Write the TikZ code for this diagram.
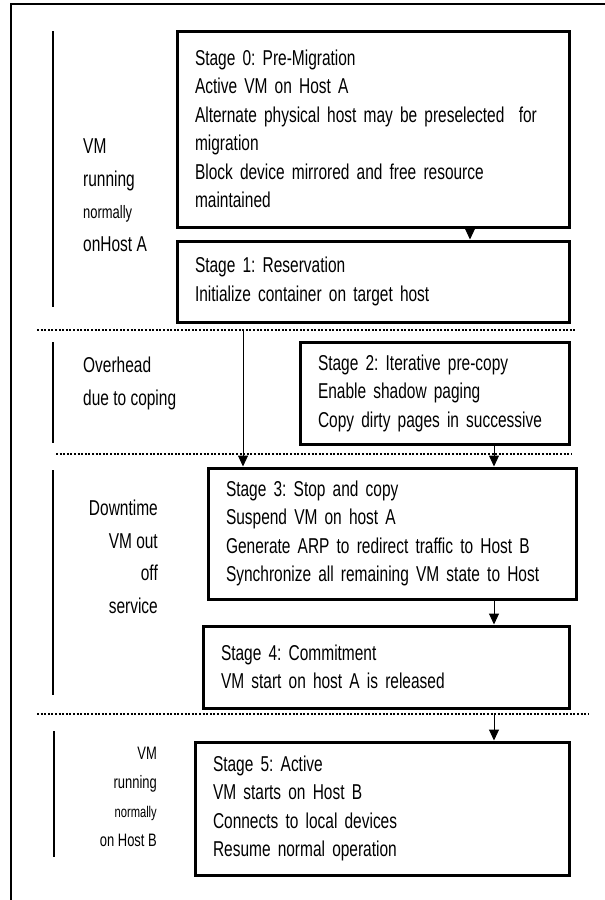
\documentclass[tikz,border=0pt]{standalone}
\usepackage{fontspec}
\setmainfont[FakeStretch=0.72]{Liberation Sans}
\usetikzlibrary{positioning, arrows.meta}
\frenchspacing
\newcommand{\stagefont}{\fontsize{21.5}{28.5}\selectfont}
\newcommand{\phasefont}{\fontsize{21.5}{32.5}\selectfont}
\newcommand{\smallphase}{\fontsize{18}{29}\selectfont}

\begin{document}
\begin{tikzpicture}[x=1pt, y=-1pt,
  stagebox/.style={draw, line width=3pt, align=left, inner xsep=18pt,
                   inner ysep=0pt, font=\stagefont},
  phaselbl/.style={inner sep=0pt},
  phasebar/.style={line width=2.5pt},
  phaseline/.style={line width=2.2pt, dash pattern=on 2pt off 1.6pt},
  arr/.style={-{Triangle[length=11pt, width=10pt]}, line width=1pt}
]
\useasboundingbox (0,0) rectangle (605,900);
% outer frame
\draw[line width=2pt] (11,900) -- (11,4) -- (605,4);

% stages
\node[stagebox, text width=356pt, minimum height=196pt] (s0) at (373,129)
  {Stage 0: Pre-Migration\\
   Active VM on Host A\\
   Alternate physical host may be preselected \ for\\
   migration\\
   Block device mirrored and free resource\\
   maintained};
\node[stagebox, text width=356pt, minimum height=81pt, below=11pt of s0] (s1)
  {Stage 1: Reservation\\
   Initialize container on target host};
\node[stagebox, text width=233pt, minimum height=102pt] (s2) at (434.5,393)
  {Stage 2: Iterative pre-copy\\
   Enable shadow paging\\
   Copy dirty pages in successive};
\node[stagebox, text width=332pt, minimum height=131pt] (s3) at (392,533.5)
  {Stage 3: Stop and copy\\
   Suspend VM on host A\\
   Generate ARP to redirect traffic to Host B\\
   Synchronize all remaining VM state to Host};
\node[stagebox, text width=330pt, minimum height=82pt, below=24pt of s3, xshift=-6pt] (s4)
  {Stage 4: Commitment\\
   VM start on host A is released};
\node[stagebox, text width=338pt, minimum height=133pt] (s5) at (382,808.5)
  {Stage 5: Active\\
   VM starts on Host B\\
   Connects to local devices\\
   Resume normal operation};

% phase labels
\node[phaselbl, align=left, anchor=west, font=\phasefont] (p1) at (83,195)
  {VM\\running\\{\fontsize{18}{32.5}\selectfont normally}\\onHost A};
\node[phaselbl, align=left, anchor=west, font=\phasefont] (p2) at (83,383.5)
  {Overhead\\due to coping};
\node[phaselbl, align=right, anchor=east, font=\phasefont] (p3) at (158,557)
  {Downtime\\VM out\\off\\service};
\node[phaselbl, align=right, anchor=east, font=\smallphase] (p4) at (157,796.5)
  {VM\\running\\{\fontsize{15.5}{29}\selectfont normally}\\on Host B};

% phase bars
\draw[phasebar] (53,31) -- (53,307);
\draw[phasebar] (53,342) -- (53,443);
\draw[phasebar] (53,470) -- (53,695);
\draw[phasebar] (54,731) -- (54,857);

% dotted separators
\coordinate (d1w) at (37,330);  \coordinate (d1e) at (575,330);
\coordinate (d2w) at (56,454);  \coordinate (d2e) at (571,454);
\coordinate (d3w) at (37,714);  \coordinate (d3e) at (589,714);
\draw[phaseline] (d1w) -- (d1e);
\draw[phaseline] (d2w) -- (d2e);
\draw[phaseline] (d3w) -- (d3e);

% arrows
\coordinate (ax0) at (470,0);
\coordinate (axl) at (243,0);
\coordinate (axr) at (494,0);
\draw[arr] (s0.south -| ax0) -- (s1.north -| ax0);
\draw[arr] (d1w -| axl) -- (s3.north -| axl);
\draw[arr] (s2.south -| axr) -- (s3.north -| axr);
\draw[arr] (s3.south -| axr) -- (s4.north -| axr);
\draw[arr] (d3w -| axr) -- (s5.north -| axr);
\end{tikzpicture}
\end{document}
